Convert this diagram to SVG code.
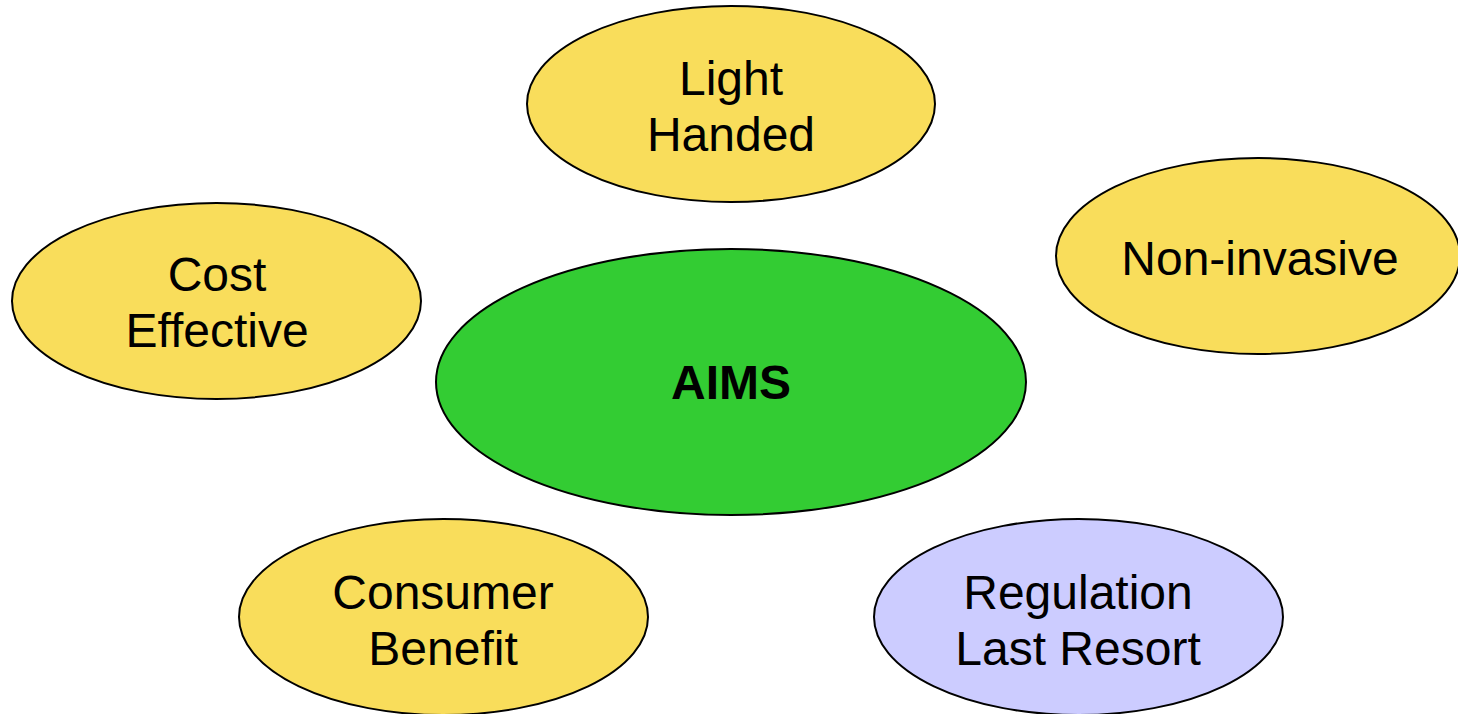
<svg xmlns="http://www.w3.org/2000/svg" width="1458" height="714" viewBox="0 0 1458 714">
<style>
.n{stroke:#000;stroke-width:2}
.y{fill:#F9DD5B}
.g{fill:#33CC33}
.p{fill:#CCCCFF}
text{font-family:"Liberation Sans",Arial,sans-serif;font-size:48px;fill:#000;text-anchor:middle}
.b{font-weight:bold}
</style>
<rect width="1458" height="714" fill="#fff"/>
<g id="connectors"></g>
<g id="light-handed"><ellipse class="n y" cx="731" cy="104" rx="204" ry="98"/><text x="731" y="95">Light</text><text x="731" y="151">Handed</text></g>
<g id="cost-effective"><ellipse class="n y" cx="216.5" cy="301" rx="204.5" ry="98"/><text x="217" y="291">Cost</text><text x="217" y="347">Effective</text></g>
<g id="non-invasive"><ellipse class="n y" cx="1258" cy="256" rx="202" ry="98"/><text x="1260" y="275">Non-invasive</text></g>
<g id="aims"><ellipse class="n g" cx="731" cy="382" rx="295" ry="133"/><text class="b" x="731" y="399">AIMS</text></g>
<g id="consumer-benefit"><ellipse class="n y" cx="443.5" cy="617" rx="204.5" ry="98"/><text x="443" y="609">Consumer</text><text x="443" y="665">Benefit</text></g>
<g id="regulation-last-resort"><ellipse class="n p" cx="1078.5" cy="617" rx="204.5" ry="98"/><text x="1078" y="609">Regulation</text><text x="1078" y="665">Last Resort</text></g>
</svg>
